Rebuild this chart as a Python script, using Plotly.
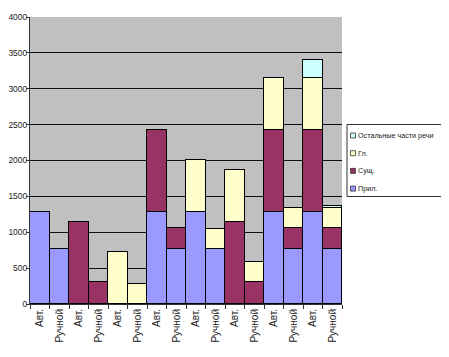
import plotly.graph_objects as go

categories = ["Авт.", "Ручной"] * 8
series_names = ["Прил.", "Сущ.", "Гл.", "Остальные части речи"]
pril = [1280, 760, 0, 0, 0, 0, 1280, 760, 1280, 760, 0, 0, 1280, 760, 1280, 760]
sush = [0, 0, 1140, 300, 0, 0, 1140, 300, 0, 0, 1140, 300, 1140, 300, 1140, 300]
gl = [0, 0, 0, 0, 730, 280, 0, 0, 730, 280, 730, 280, 730, 280, 730, 280]
ost = [0, 0, 0, 0, 0, 0, 0, 0, 0, 0, 0, 0, 0, 0, 250, 30]
y_ticks = [0, 500, 1000, 1500, 2000, 2500, 3000, 3500, 4000]

colors = ["#9999FF", "#993366", "#FFFFCC", "#CCFFFF"]
xs = list(range(len(categories)))

# page body has an 8px margin; compensate so the window shows the target layout
OFF = 8
WIN_W, WIN_H = 449, 357
W, H = WIN_W - OFF, WIN_H - OFF
# target plot area in window pixels: x 30..342, y 17..304
ML, MR, MT, MB = 30 - OFF, WIN_W - 342, 17 - OFF, WIN_H - 304
PW, PH = W - ML - MR, H - MT - MB


def px(x):
    return (x - OFF - ML) / PW


def py(y):
    return (WIN_H - MB - y) / PH


fig = go.Figure()
for name, vals, col in zip(series_names, [pril, sush, gl, ost], colors):
    fig.add_trace(go.Bar(
        x=xs, y=[v if v else None for v in vals], name=name,
        marker=dict(color=col, line=dict(color="black", width=1)),
        showlegend=False,
    ))

# manual legend (Excel-style, compact)
shapes = [dict(type="rect", xref="paper", yref="paper",
               x0=px(347), x1=px(445.5), y0=py(124.5), y1=py(196.5),
               line=dict(color="#333", width=1), fillcolor="white", layer="above")]
annotations = []
legend_rows = list(zip(series_names, colors))[::-1]
for i, (name, col) in enumerate(legend_rows):
    cy = 135.5 + i * 17.7
    shapes.append(dict(type="rect", xref="paper", yref="paper",
                       x0=px(350.5), x1=px(355.5), y0=py(cy - 2.5), y1=py(cy + 2.5),
                       line=dict(color="#333", width=0.8), fillcolor=col, layer="above"))
    annotations.append(dict(xref="paper", yref="paper", x=px(356), y=py(cy),
                            xanchor="left", yanchor="middle", text=name, showarrow=False,
                            font=dict(family="Arial, Liberation Sans", size=7.2, color="#222")))

fig.update_layout(
    barmode="stack", bargap=0,
    width=W, height=H,
    margin=dict(l=ML, r=MR, t=MT, b=MB, autoexpand=False),
    paper_bgcolor="white", plot_bgcolor="#C0C0C0",
    font=dict(family="Arial, Liberation Sans", size=10, color="#222"),
    showlegend=False,
    shapes=shapes, annotations=annotations,
)
fig.update_xaxes(
    range=[-0.5, len(categories) - 0.5], automargin=False,
    tickvals=xs, ticktext=categories, tickangle=-90,
    ticks="", showgrid=False, zeroline=False,
    showline=True, linecolor="#333", linewidth=1,
    tickfont=dict(size=10),
    minor=dict(tickvals=[i - 0.5 for i in range(len(categories) + 1)],
               ticks="outside", ticklen=4, tickcolor="#333", showgrid=False),
)
fig.update_yaxes(
    range=[0, 4000], tickvals=y_ticks, automargin=False,
    showgrid=True, gridcolor="#111", gridwidth=1,
    ticks="outside", ticklen=3, tickcolor="#333",
    showline=True, linecolor="#333", linewidth=1,
    zeroline=False, ticklabelstandoff=-3,
    tickfont=dict(size=8.5),
)

fig.write_html("out.html")
